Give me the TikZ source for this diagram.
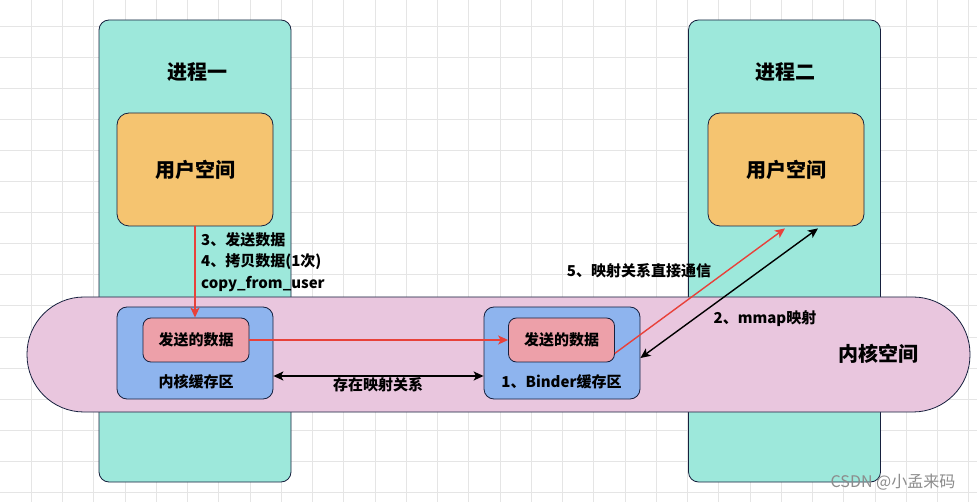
\documentclass[tikz,border=0pt]{standalone}
\usepackage{fontspec}
\setmainfont{Noto Sans CJK SC}
\usetikzlibrary{arrows.meta,positioning}
\definecolor{proccolor}{RGB}{157,232,219}
\definecolor{usercolor}{RGB}{245,196,112}
\definecolor{kernelcolor}{RGB}{233,198,222}
\definecolor{cachecolor}{RGB}{142,180,238}
\definecolor{datacolor}{RGB}{237,160,169}
\definecolor{edgecolor}{RGB}{22,32,62}
\definecolor{arrowred}{RGB}{232,65,58}

\begin{document}
\begin{tikzpicture}[x=1pt,y=-1pt]
\tikzstyle{gridline}=[draw=black!10, line width=0.8pt]
\tikzstyle{box}=[rectangle, draw=edgecolor, line width=0.8pt, inner sep=0pt]
\tikzstyle{column}=[box, rounded corners=10pt, fill=proccolor, minimum width=192pt, minimum height=462pt]
\tikzstyle{userspace}=[box, rounded corners=12pt, fill=usercolor, minimum width=156pt, minimum height=113pt, font=\fontsize{20}{23}\selectfont\bfseries]
\tikzstyle{cache}=[box, rounded corners=10pt, fill=cachecolor, minimum width=156pt, minimum height=92pt]
\tikzstyle{data}=[box, rounded corners=8pt, fill=datacolor, minimum width=106pt, minimum height=44pt, font=\fontsize{15}{18}\selectfont\bfseries]
\tikzstyle{title}=[font=\fontsize{20}{23}\selectfont\bfseries]
\tikzstyle{label}=[font=\fontsize{15}{18}\selectfont\bfseries, inner sep=1pt]
\tikzstyle{redarrow}=[-{Stealth[length=10pt,width=9pt,inset=2.5pt]}, draw=arrowred, line width=1.4pt]
\tikzstyle{blackarrow}=[{Stealth[length=10pt,width=9pt,inset=2.5pt]}-{Stealth[length=10pt,width=9pt,inset=2.5pt]}, draw=black, line width=1.4pt]
  \useasboundingbox (0,0) rectangle (977,502);
  \fill[white] (0,0) rectangle (977,502);
  % background grid
  \foreach \i in {1,...,31} \draw[gridline] (\i*31.25,0) -- (\i*31.25,502);
  \foreach \j in {0,...,15} \draw[gridline] (0,26+\j*31.1) -- (977,26+\j*31.1);

  % processes
  \node[column] (proc1) at (195,251) {};
  \node[column] (proc2) at (784.5,251) {};
  \node[title] (proc1title) at (197,72) {进程一};
  \node[title] (proc2title) at (785,72) {进程二};
  \node[userspace] (user1) at (195,169.5) {用户空间};
  \node[userspace] (user2) at (786,169.5) {用户空间};

  % kernel space
  \node[box, fill=kernelcolor, rounded corners=57pt, minimum width=943pt, minimum height=115pt] (kernel) at (498.5,354.5) {};
  \node[title] (kerneltitle) at (878,354) {内核空间};

  \node[cache] (cache1) at (195,353) {};
  \node[data] (data1) at (196,340) {发送的数据};
  \node[label, below=11pt of data1] (cache1label) {内核缓存区};
  \node[cache] (cache2) at (562,353) {};
  \node[data] (data2) at (561.5,340) {发送的数据};
  \node[label, below=11pt of data2] (cache2label) {1、Binder缓存区};

  \coordinate (cache1map) at ([yshift=-23pt]cache1.east);
  \coordinate (cache2map) at ([yshift=-23pt]cache2.west);
  \coordinate (mmapend) at ([yshift=-5pt]cache2.east);
  \coordinate (userred) at ([xshift=-1pt,yshift=-2pt]user2.south);
  \coordinate (userblack) at ([xshift=32pt,yshift=-2pt]user2.south);

  \path (user1.south) edge [redarrow] (user1.south |- data1.north)
	(data1.east) edge [redarrow] (data2.west)
	(data2.-14) edge [redarrow] (userred)
	(cache1map) edge [blackarrow] (cache2map)
	(mmapend) edge [blackarrow] (userblack);

  \node[label, anchor=north west, align=left, font=\fontsize{15}{21.5}\selectfont\bfseries] (copysteps) at (200,231) {3、发送数据\\4、拷贝数据(1次)\\copy\_from\_user};
  \node[label] (mapnote) at (378,385) {存在映射关系};
  \node[label] (directnote) at (639,271) {5、映射关系直接通信};
  \node[label] (mmapnote) at (765,319) {2、mmap映射};
  \node[font=\fontsize{16}{18}\selectfont, text=black!45] (watermark) at (893,482) {CSDN @小孟来码};
\end{tikzpicture}
\end{document}
